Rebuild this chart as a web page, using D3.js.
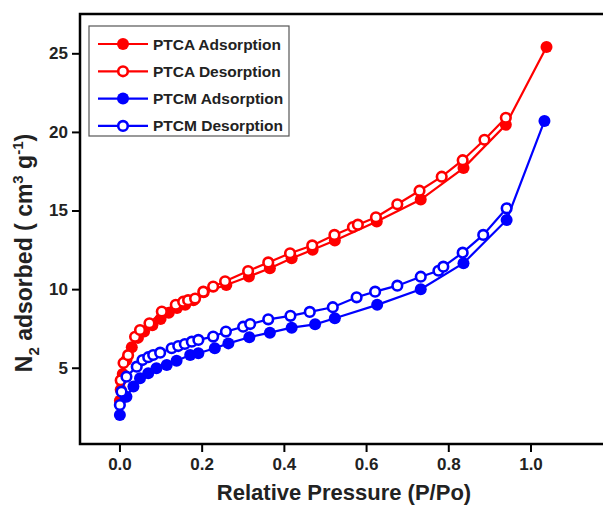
<!DOCTYPE html>
<html>
<head>
<meta charset="utf-8">
<script src="https://cdn.jsdelivr.net/npm/d3@7"></script>
<style>
  body { margin: 0; background: #fff; }
  svg { font-family: "Liberation Sans", Arial, sans-serif; font-weight: bold; }
</style>
</head>
<body>
<div id="chart"></div>
<script>
// PTCA (red)
const ptcaAdsX = [0.001, 0.003, 0.008, 0.017, 0.03, 0.045, 0.06, 0.08, 0.1, 0.12, 0.14, 0.16, 0.18, 0.205, 0.26, 0.315, 0.366, 0.419, 0.47, 0.524, 0.626, 0.733, 0.837, 0.94, 1.039];
const ptcaAdsY = [2.9, 3.6, 4.6, 5.5, 6.3, 6.9, 7.3, 7.7, 8.1, 8.5, 8.8, 9.0, 9.3, 9.8, 10.26, 10.8, 11.33, 11.96, 12.5, 13.1, 14.3, 15.7, 17.7, 20.45, 25.4];
const ptcaDesX = [0.003, 0.01, 0.021, 0.038, 0.05, 0.073, 0.103, 0.137, 0.155, 0.167, 0.184, 0.204, 0.228, 0.257, 0.313, 0.362, 0.415, 0.469, 0.523, 0.568, 0.58, 0.624, 0.676, 0.73, 0.784, 0.835, 0.888, 0.94];
const ptcaDesY = [4.2, 5.3, 5.8, 6.97, 7.4, 7.83, 8.57, 9.0, 9.2, 9.3, 9.4, 9.84, 10.16, 10.5, 11.15, 11.7, 12.28, 12.78, 13.45, 13.95, 14.1, 14.57, 15.4, 16.26, 17.15, 18.2, 19.5, 20.9];

// PTCM (blue)
const ptcmAdsX = [0.001, 0.017, 0.034, 0.05, 0.07, 0.09, 0.115, 0.139, 0.172, 0.192, 0.232, 0.265, 0.316, 0.366, 0.419, 0.476, 0.524, 0.627, 0.733, 0.837, 0.942, 1.034];
const ptcmAdsY = [2.0, 3.16, 3.8, 4.33, 4.65, 4.97, 5.18, 5.45, 5.81, 5.92, 6.24, 6.55, 6.94, 7.23, 7.55, 7.76, 8.15, 9.0, 9.99, 11.65, 14.4, 20.7];
const ptcmDesX = [0.001, 0.005, 0.017, 0.042, 0.056, 0.07, 0.082, 0.099, 0.127, 0.143, 0.159, 0.176, 0.192, 0.228, 0.259, 0.301, 0.318, 0.362, 0.416, 0.463, 0.519, 0.577, 0.622, 0.676, 0.733, 0.776, 0.788, 0.835, 0.885, 0.942];
const ptcmDesY = [2.63, 3.48, 4.43, 5.07, 5.49, 5.67, 5.81, 5.96, 6.24, 6.38, 6.51, 6.66, 6.77, 6.98, 7.3, 7.61, 7.78, 8.08, 8.3, 8.55, 8.85, 9.48, 9.84, 10.22, 10.79, 11.17, 11.43, 12.32, 13.45, 15.14];

const xTicks = [0, 0.2, 0.4, 0.6, 0.8, 1.0];
const yTicks = [5, 10, 15, 20, 25];

const series = [
  { name: "PTCA Adsorption", xs: ptcaAdsX, ys: ptcaAdsY, color: "#ff0000", open: false },
  { name: "PTCA Desorption", xs: ptcaDesX, ys: ptcaDesY, color: "#ff0000", open: true },
  { name: "PTCM Adsorption", xs: ptcmAdsX, ys: ptcmAdsY, color: "#0000ff", open: false },
  { name: "PTCM Desorption", xs: ptcmDesX, ys: ptcmDesY, color: "#0000ff", open: true }
];

const W = 603, H = 507;
const svg = d3.select("#chart").append("svg")
  .attr("width", W)
  .attr("height", H);

const x = d3.scaleLinear().domain([-0.096, 1.2]).range([80, 612.7]);
const y = d3.scaleLinear().domain([0.15, 27.5]).range([444, 14]);

// frame
svg.append("rect")
  .attr("x", x.range()[0]).attr("y", y.range()[1])
  .attr("width", x.range()[1] - x.range()[0])
  .attr("height", y.range()[0] - y.range()[1])
  .attr("fill", "none")
  .attr("stroke", "#000")
  .attr("stroke-width", 2.5);

const xAxis = svg.append("g")
  .attr("transform", `translate(0,${y.range()[0]})`)
  .call(d3.axisBottom(x).tickValues(xTicks).tickFormat(d3.format(".1f")).tickSize(8).tickPadding(6));
const yAxis = svg.append("g")
  .attr("transform", `translate(${x.range()[0]},0)`)
  .call(d3.axisLeft(y).tickValues(yTicks).tickSize(8).tickPadding(4));

[xAxis, yAxis].forEach(g => {
  g.select(".domain").remove();
  g.selectAll(".tick line").attr("stroke", "#000").attr("stroke-width", 2);
  g.selectAll(".tick text")
    .attr("fill", "#222")
    .attr("font-size", 17)
    .attr("font-family", "Liberation Sans, Arial, sans-serif")
    .attr("font-weight", "bold");
});

// axis titles
svg.append("text")
  .attr("x", 344).attr("y", 500)
  .attr("text-anchor", "middle")
  .attr("font-size", 22)
  .attr("fill", "#222")
  .text("Relative Pressure (P/Po)");

const yTitle = svg.append("text")
  .attr("transform", "translate(32,253) rotate(-90)")
  .attr("text-anchor", "middle")
  .attr("font-size", 23)
  .attr("fill", "#222");
yTitle.append("tspan").text("N");
yTitle.append("tspan").attr("font-size", 15).attr("dy", 7).text("2");
yTitle.append("tspan").attr("dy", -7).text(" adsorbed ( cm");
yTitle.append("tspan").attr("font-size", 15).attr("dy", -9).text("3");
yTitle.append("tspan").attr("dy", 9).text(" g");
yTitle.append("tspan").attr("font-size", 15).attr("dy", -9).text("-1");
yTitle.append("tspan").attr("dy", 9).text(")");

// data
const line = d3.line().x(d => x(d[0])).y(d => y(d[1]));

series.forEach(s => {
  const pts = s.xs.map((v, i) => [v, s.ys[i]]);
  const g = svg.append("g");
  g.append("path")
    .datum(pts)
    .attr("d", line)
    .attr("fill", "none")
    .attr("stroke", s.color)
    .attr("stroke-width", 2.2);
  g.selectAll("circle")
    .data(pts)
    .enter().append("circle")
    .attr("cx", d => x(d[0]))
    .attr("cy", d => y(d[1]))
    .attr("r", s.open ? 4.8 : 6)
    .attr("fill", s.open ? "#fff" : s.color)
    .attr("stroke", s.color)
    .attr("stroke-width", s.open ? 2.6 : 0);
});

// legend
const legend = svg.append("g");
legend.append("rect")
  .attr("x", 89).attr("y", 26)
  .attr("width", 200).attr("height", 110)
  .attr("fill", "#fff")
  .attr("stroke", "#555")
  .attr("stroke-width", 1.2);

series.forEach((s, i) => {
  const ly = 44 + i * 27.3;
  legend.append("line")
    .attr("x1", 98).attr("x2", 148)
    .attr("y1", ly).attr("y2", ly)
    .attr("stroke", s.color)
    .attr("stroke-width", 2.2);
  legend.append("circle")
    .attr("cx", 123).attr("cy", ly)
    .attr("r", s.open ? 4.8 : 6)
    .attr("fill", s.open ? "#fff" : s.color)
    .attr("stroke", s.color)
    .attr("stroke-width", s.open ? 2.6 : 0);
  legend.append("text")
    .attr("x", 153).attr("y", ly)
    .attr("dy", "0.36em")
    .attr("font-size", 15.5)
    .attr("fill", "#222")
    .text(s.name);
});
</script>
</body>
</html>
